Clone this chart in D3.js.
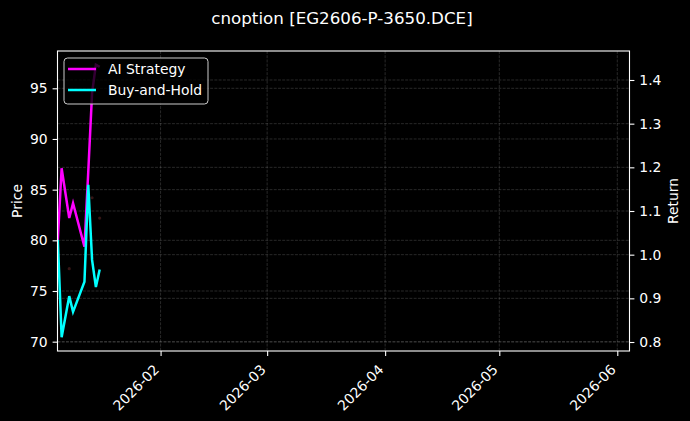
<!DOCTYPE html>
<html>
<head>
<meta charset="utf-8">
<script src="https://cdn.jsdelivr.net/npm/d3@7"></script>
<style>
  html, body { margin: 0; padding: 0; background: #000; }
  svg { display: block; font-family: "DejaVu Sans", sans-serif; }
</style>
</head>
<body>
<svg id="chart" width="690" height="421"></svg>
<script>
// ---- data ----
const title = "cnoption [EG2606-P-3650.DCE]";
const dates = ["2026-01-05","2026-01-06","2026-01-08","2026-01-09","2026-01-12","2026-01-13","2026-01-14","2026-01-15","2026-01-16"];
const aiStrategy  = [1.034, 1.198, 1.084, 1.118, 1.018, 1.190, 1.370, 1.435, 1.430];
const buyAndHold  = [1.034, 0.811, 0.905, 0.869, 0.938, 1.160, 0.988, 0.926, 0.966];
const markerDates  = ["2026-01-08","2026-01-14","2026-01-16"];
const markerPrices = [77.2, 84.2, 82.2];
const priceTicks  = [70, 75, 80, 85, 90, 95];
const returnTicks = [0.8, 0.9, 1.0, 1.1, 1.2, 1.3, 1.4];
const monthTicks  = ["2026-02-01","2026-03-01","2026-04-01","2026-05-01","2026-06-01"];
const xDomain = ["2026-01-04T22:00:00","2026-06-04T05:00:00"];
const priceDomain = [69.08, 98.68];
const returnDomain = [0.7794, 1.4664];
const seriesNames = ["AI Strategy", "Buy-and-Hold"];
const seriesColors = ["#ff00ff", "#00ffff"];

// ---- layout ----
const L = 57.5, R = 629.5, T = 51, B = 351;
const svg = d3.select("#chart");
svg.append("rect").attr("width", 690).attr("height", 421).attr("fill", "#000");

const parse = d3.isoParse;
const x = d3.scaleTime().domain(xDomain.map(parse)).range([L, R]);
const yP = d3.scaleLinear().domain(priceDomain).range([B, T]);
const yR = d3.scaleLinear().domain(returnDomain).range([B, T]);

const fs = 13.9;
const gridStyle = g => g.attr("stroke", "#ffffff").attr("stroke-opacity", 0.2)
  .attr("stroke-width", 0.8).attr("stroke-dasharray", "2.96,1.28");

// grids
const grid = svg.append("g");
grid.selectAll(".gx").data(monthTicks.map(parse)).join("line")
  .attr("x1", d => x(d)).attr("x2", d => x(d)).attr("y1", T).attr("y2", B).call(gridStyle);
grid.selectAll(".gp").data(priceTicks).join("line")
  .attr("x1", L).attr("x2", R).attr("y1", d => yP(d)).attr("y2", d => yP(d)).call(gridStyle);
grid.selectAll(".gr").data(returnTicks).join("line")
  .attr("x1", L).attr("x2", R).attr("y1", d => yR(d)).attr("y2", d => yR(d)).call(gridStyle);

// faint markers
svg.append("g").selectAll("circle").data(markerDates.map((d, i) => [parse(d), markerPrices[i]]))
  .join("circle").attr("cx", d => x(d[0])).attr("cy", d => yP(d[1])).attr("r", 1.6)
  .attr("fill", "#6a2a2a").attr("opacity", 0.5);

// lines
svg.append("clipPath").attr("id", "clip").append("rect")
  .attr("x", L).attr("y", T).attr("width", R - L).attr("height", B - T);
const lineGen = d3.line().x(d => x(d[0])).y(d => yR(d[1]));
[aiStrategy, buyAndHold].forEach((vals, i) => {
  svg.append("path")
    .datum(dates.map((d, j) => [parse(d), vals[j]]))
    .attr("d", lineGen).attr("fill", "none")
    .attr("stroke", seriesColors[i]).attr("stroke-width", 2.5)
    .attr("stroke-linejoin", "miter").attr("clip-path", "url(#clip)");
});

// axes
const axisStyle = (g) => {
  g.select(".domain").remove();
  g.selectAll(".tick line").attr("stroke", "#fff").attr("stroke-width", 1.1);
  g.selectAll(".tick text").attr("fill", "#fff").attr("font-size", fs)
    .attr("font-family", "DejaVu Sans");
};
const gx = svg.append("g").attr("transform", `translate(0,${B})`)
  .call(d3.axisBottom(x).tickValues(monthTicks.map(parse)).tickFormat(d3.timeFormat("%Y-%m"))
    .tickSizeOuter(0).tickSize(4.9).tickPadding(4.9));
axisStyle(gx);
gx.selectAll(".tick text")
  .attr("text-anchor", "end").attr("dy", null).attr("y", null)
  .attr("transform", "translate(-1,19.5) rotate(-45)");

const gl = svg.append("g").attr("transform", `translate(${L},0)`)
  .call(d3.axisLeft(yP).tickValues(priceTicks).tickFormat(d3.format("d"))
    .tickSize(4.9).tickPadding(4.9));
axisStyle(gl);
const gr = svg.append("g").attr("transform", `translate(${R},0)`)
  .call(d3.axisRight(yR).tickValues(returnTicks).tickFormat(d3.format(".1f"))
    .tickSize(4.9).tickPadding(4.9));
axisStyle(gr);

// spines
svg.append("rect").attr("x", L).attr("y", T).attr("width", R - L).attr("height", B - T)
  .attr("fill", "none").attr("stroke", "#fff").attr("stroke-width", 1.1);

// labels
svg.append("text").attr("x", 342).attr("y", 23.5).attr("text-anchor", "middle")
  .attr("fill", "#fff").attr("font-size", 16.7).text(title);
svg.append("text").attr("transform", `translate(21.5,${(T + B) / 2}) rotate(-90)`)
  .attr("text-anchor", "middle").attr("fill", "#fff").attr("font-size", fs).text("Price");
svg.append("text").attr("transform", `translate(678,${(T + B) / 2}) rotate(-90)`)
  .attr("text-anchor", "middle").attr("fill", "#fff").attr("font-size", fs).text("Return");

// legend
const lg = svg.append("g").attr("transform", `translate(${L + 6.5},${T + 7})`);
lg.append("rect").attr("width", 144).attr("height", 46).attr("rx", 3.5)
  .attr("fill", "#000").attr("fill-opacity", 0.8)
  .attr("stroke", "#cccccc").attr("stroke-width", 1);
seriesNames.forEach((name, i) => {
  const yy = 11 + i * 21;
  lg.append("line").attr("x1", 4).attr("x2", 32).attr("y1", yy).attr("y2", yy)
    .attr("stroke", seriesColors[i]).attr("stroke-width", 2.5);
  lg.append("text").attr("x", 44).attr("y", yy).attr("dy", "0.36em")
    .attr("fill", "#fff").attr("font-size", fs).text(name);
});
</script>
</body>
</html>
